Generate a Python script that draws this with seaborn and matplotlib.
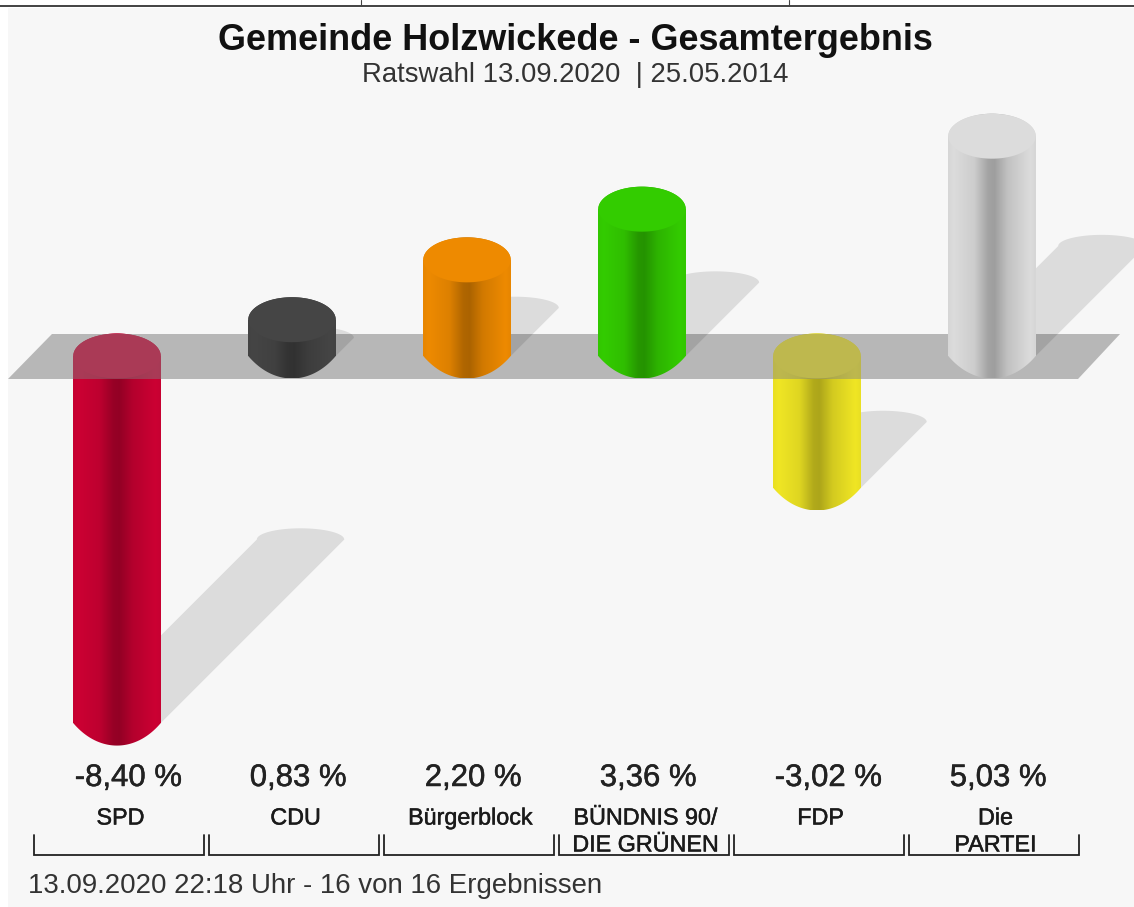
import numpy as np
import pandas as pd
import matplotlib
matplotlib.use('Agg')
import matplotlib.pyplot as plt
import matplotlib.patheffects as pe
from matplotlib.colors import to_rgb
from matplotlib.path import Path
from matplotlib.patches import PathPatch
import seaborn as sns

# Chart data
parties = ['SPD', 'CDU', 'Bürgerblock', 'BÜNDNIS 90/\nDIE GRÜNEN', 'FDP', 'Die\nPARTEI']
changes = [-8.40, 0.83, 2.20, 3.36, -3.02, 5.03]
party_colors = ['#cc0033', '#454545', '#ee8a00', '#33cc00', '#f0e624', '#dcdcdc']
title = 'Gemeinde Holzwickede - Gesamtergebnis'
subtitle = 'Ratswahl 13.09.2020  | 25.05.2014'
footer = '13.09.2020 22:18 Uhr - 16 von 16 Ergebnissen'

# Scale of the picture: pixels per category and per percentage point
PX_X = 175.0
PX_Y = 43.7
X0 = 117
Y0 = 356
BAR_WIDTH = 0.5
RY = 22.5 / PX_Y


def dx(px):
    return (px - X0) / PX_X


def dy(py):
    return (Y0 - py) / PX_Y


def side_shape(xc, hw, top, bottom):
    # cylinder outline: elliptic top, shallow arc at the bottom
    t = np.linspace(0, np.pi, 50)
    top_x = xc + hw * np.cos(t)
    top_y = top + RY * np.sin(t)
    u = np.linspace(-1, 1, 50)
    sag = 1.55
    bot_x = xc + hw * u
    bot_y = bottom - RY * (np.sqrt(sag**2 - u**2) - np.sqrt(sag**2 - 1)) / (sag - np.sqrt(sag**2 - 1))
    xs = np.concatenate([top_x, bot_x])
    ys = np.concatenate([top_y, bot_y])
    return Path(np.column_stack([xs, ys]))


def shade(color):
    # horizontal shading of the cylinder side
    pos = np.linspace(0, 1, 200)
    factor = np.interp(pos, [0, 0.06, 0.3, 0.46, 0.53, 0.68, 0.94, 1],
                       [0.97, 1.0, 0.93, 0.74, 0.72, 0.88, 1.0, 0.97])
    return (np.array(to_rgb(color))[None, None, :] * factor[None, :, None]).clip(0, 1)


sns.set_theme(style='white')
plt.rcParams['font.family'] = ['Liberation Sans', 'DejaVu Sans']

fig = plt.figure(figsize=(11.34, 9.07), dpi=100, facecolor='white')
ax = fig.add_axes([0, 0, 1, 1])

df = pd.DataFrame({'party': parties, 'change': changes})
sns.barplot(data=df, x='party', y='change', hue='party', palette=party_colors,
            dodge=False, width=BAR_WIDTH, legend=False, ax=ax, saturation=1)
bars = sorted(ax.patches, key=lambda p: p.get_x())

# Panel and floor band
ax.fill([dx(8), dx(1134), dx(1134), dx(8)], [dy(8), dy(8), dy(907), dy(907)],
        color='#f7f7f7', lw=0, zorder=0)
band_x = [dx(8), dx(1078), dx(1120), dx(52)]
band_y = [dy(379), dy(379), dy(334), dy(334)]
# two layers: the lower one plus the see-through one over negative bars give #b8b8b8
ax.fill(band_x, band_y, color='#e4e4e4', lw=0, zorder=1)
ax.fill(band_x, band_y, color='#828282', alpha=0.45, lw=0, zorder=3)

stroke = [pe.withStroke(linewidth=0.35, foreground='#222222')]

for bar, party, value, color in zip(bars, parties, changes, party_colors):
    hw = bar.get_width() / 2
    xc = bar.get_x() + hw
    top = max(value, 0)
    bottom = min(value, 0)
    z = 5 if value > 0 else 2

    # Shadow thrown up and to the right, half the bar's length
    shift = abs(value) * 0.5
    shift_x = shift * PX_Y / PX_X
    t = np.linspace(np.pi, 0, 40)
    sx = np.concatenate([[xc - hw], xc + shift_x + hw * np.cos(t), [xc + hw]])
    sy = np.concatenate([[bottom], bottom + shift + RY * 0.5 * np.sin(t), [bottom]])
    ax.fill(sx, sy, color='black', alpha=0.105, lw=0, zorder=4 if value > 0 else 1.5)

    bar.set_zorder(z - 0.1)
    bar.set_edgecolor('none')

    # Cylinder side, then flat cap
    outline = side_shape(xc, hw, top, bottom)
    im = ax.imshow(shade(color), extent=(xc - hw, xc + hw, bottom - RY, top + RY),
                   aspect='auto', interpolation='bilinear', zorder=z)
    im.set_clip_path(PathPatch(outline, transform=ax.transData))
    t = np.linspace(0, 2 * np.pi, 80)
    ax.fill(xc + hw * np.cos(t), top + RY * np.sin(t), color=color, lw=0, zorder=z + 0.1)

    # Value above the party name, starting at the bar's left edge
    label = f'{value:.2f}'.replace('.', ',') + ' %'
    ax.text(xc - hw + 1.5 / PX_X, dy(778), label, ha='left', va='center',
            fontsize=22.4, color='#222222', path_effects=stroke)
    ax.text(xc + 0.02, dy(806.5), party, ha='center', va='top',
            fontsize=16.8, color='#1a1a1a', linespacing=1.22, path_effects=stroke)

    # Bracket under each party
    left, right = xc + 0.01 - 0.486, xc + 0.01 + 0.486
    ax.plot([left, left, right, right], [dy(835), dy(855), dy(855), dy(835)],
            color='#222222', lw=1.3, solid_joinstyle='miter', zorder=6)

# Titles and footer
ax.text(dx(575), dy(40), title, ha='center', va='center', fontsize=25.9,
        fontweight='bold', color='#111111')
ax.text(dx(575), dy(75), subtitle, ha='center', va='center', fontsize=19.8, color='#333333')
ax.text(dx(28), dy(886), footer, ha='left', va='center', fontsize=19.9, color='#333333')

# Strip of the page table above the chart
ax.plot([dx(0), dx(1134)], [dy(6), dy(6)], color='#222222', lw=1.2, zorder=7)
ax.plot([dx(361), dx(361)], [dy(0), dy(6)], color='#444444', lw=0.8, zorder=7)
ax.plot([dx(789), dx(789)], [dy(0), dy(6)], color='#444444', lw=0.8, zorder=7)

ax.set_xlim(dx(0), dx(1134))
ax.set_ylim(dy(907), dy(0))
ax.axis('off')

fig.savefig('out.png', dpi=100, facecolor='white')
